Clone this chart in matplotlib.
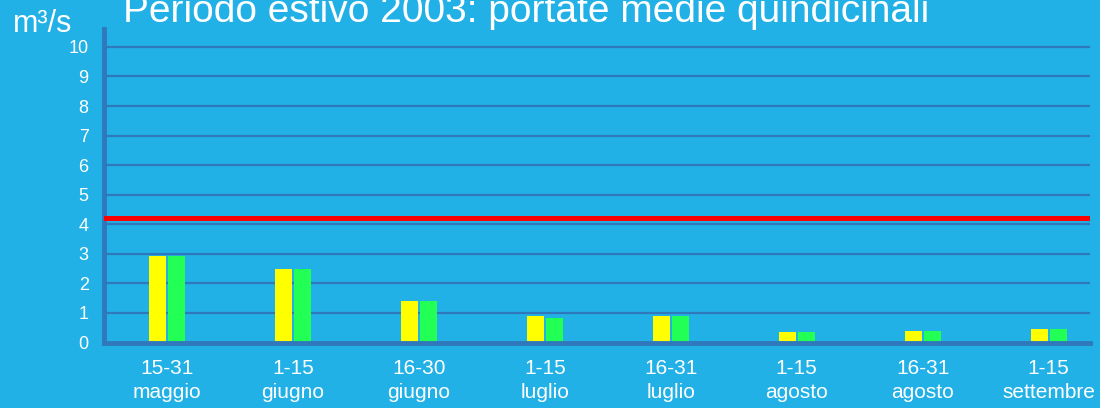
import matplotlib.pyplot as plt
import numpy as np

plt.rcParams['font.family'] = ['Liberation Sans', 'DejaVu Sans']

periodi = ["15-31\nmaggio", "1-15\ngiugno", "16-30\ngiugno", "1-15\nluglio",
           "16-31\nluglio", "1-15\nagosto", "16-31\nagosto", "1-15\nsettembre"]
serie_gialla = [2.92, 2.48, 1.40, 0.90, 0.90, 0.35, 0.39, 0.45]
serie_verde = [2.92, 2.48, 1.40, 0.83, 0.90, 0.35, 0.39, 0.45]
soglia = 4.22

bg = "#22b1e6"
grid_col = "#2f78bc"

fig = plt.figure(figsize=(11, 4.08), dpi=100, facecolor=bg)
ax = fig.add_axes([0.0945, 0.1605, 0.8965, 0.768])
ax.set_facecolor(bg)

x = np.arange(len(periodi))
w = 0.135
ax.bar(x - w / 2 - 0.008, serie_gialla, width=w, color="#ffff00", zorder=3)
ax.bar(x + w / 2 + 0.008, serie_verde, width=w, color="#22ff55", zorder=3)

for v in range(1, 11):
    ax.axhline(v, color=grid_col, lw=1.6, zorder=1)
ax.axhline(soglia, color="#ff0000", lw=3.6, zorder=4)

ax.set_xlim(-0.5, 7.33)
ax.set_ylim(0, 10.6)
ax.set_yticks(range(0, 11))
ax.set_xticks(x)
ax.set_xticklabels(periodi, color="white", fontsize=15, linespacing=1.3)
ax.tick_params(axis="y", colors="white", labelsize=13, length=0, pad=11)
ax.tick_params(axis="x", length=0, pad=12)

for s in ["top", "right"]:
    ax.spines[s].set_visible(False)
ax.spines["left"].set_color(grid_col)
ax.spines["left"].set_linewidth(3.5)
ax.spines["bottom"].set_color(grid_col)
ax.spines["bottom"].set_linewidth(3.5)
ax.spines["bottom"].set_zorder(5)

fig.text(0.112, 0.945, "Periodo estivo 2003: portate medie quindicinali",
         color="white", fontsize=28, ha="left", va="baseline")
fig.text(0.012, 0.922, "m³/s", color="white", fontsize=22, ha="left", va="baseline")

fig.savefig("out.png", dpi=100, facecolor=bg)
